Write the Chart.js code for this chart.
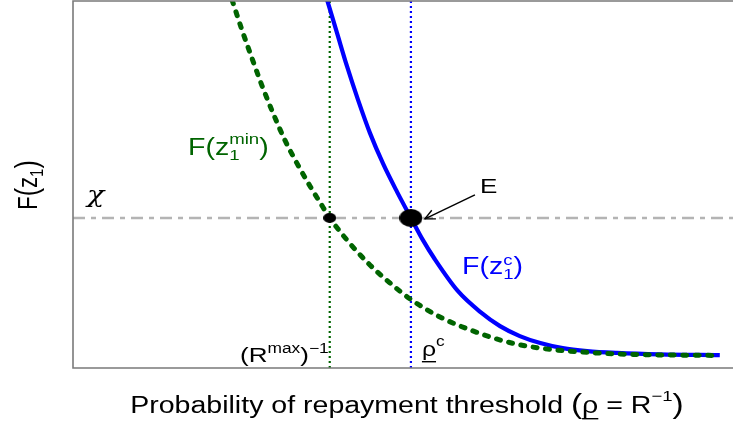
<!DOCTYPE html>
<html><head><meta charset="utf-8">
<script src="https://cdn.jsdelivr.net/npm/chart.js@4"></script>
<style>html,body{margin:0;padding:0;background:#fff}canvas{display:block}</style>
</head><body>
<canvas id="c" width="733" height="425"></canvas>
<script>
// ---- data (axes normalised 0..1) ----
const blueX  = [0.385,0.400,0.415,0.432,0.450,0.470,0.491,0.512,0.530,0.548,0.583,0.617,0.647,0.677,0.708,0.742,0.779,0.824,0.889,0.980];
const blueY  = [1.003,0.913,0.823,0.730,0.640,0.556,0.480,0.409,0.349,0.297,0.210,0.153,0.114,0.087,0.068,0.054,0.046,0.041,0.037,0.035];
const greenX = [0.241,0.256,0.271,0.286,0.303,0.321,0.339,0.359,0.374,0.389,0.415,0.447,0.480,0.511,0.556,0.606,0.658,0.708,0.768,0.829,0.980];
const greenY = [1.003,0.921,0.845,0.771,0.695,0.621,0.559,0.496,0.452,0.409,0.349,0.286,0.232,0.188,0.139,0.101,0.071,0.054,0.044,0.038,0.034];
const chiLevel = 0.409;
const rMaxInv = 0.389;   // (R^max)^-1
const rhoC = 0.512;      // rho^c
const xRange = [0, 1];
const yRange = [0, 1];

const GREEN = '#006400', BLUE = '#0000ff';
const SX = 1.24; // horizontal stretch of the original picture
const SANS = '"Liberation Sans", Arial, Helvetica, sans-serif';

function fnt(sz, fam, st){ return (st ? st + ' ' : '') + sz + 'px ' + (fam || SANS); }
function segW(ctx, s){
  if (s.stack) return Math.max(...s.stack.map(p => segW(ctx, p)));
  ctx.font = fnt(s.sz, s.fam, s.st); return ctx.measureText(s.t).width;
}
function drawSegs(ctx, segs, color){
  let x = 0; ctx.fillStyle = color; ctx.textBaseline = 'alphabetic'; ctx.textAlign = 'left';
  for (const s of segs){
    const w = segW(ctx, s);
    for (const p of (s.stack || [s])){
      ctx.font = fnt(p.sz, p.fam, p.st);
      ctx.fillText(p.t, x, p.dy || 0);
      if (p.ul !== undefined) ctx.fillRect(x, p.ul, segW(ctx, p), 1.4);
    }
    x += w;
  }
  return x;
}
function totalW(ctx, segs){ return segs.reduce((a, s) => a + segW(ctx, s), 0); }
function label(ctx, segs, x, y, color, align){
  ctx.save(); ctx.translate(x, y); ctx.scale(SX, 1);
  const w = totalW(ctx, segs);
  if (align === 'center') ctx.translate(-w/2, 0);
  else if (align === 'right') ctx.translate(-w, 0);
  drawSegs(ctx, segs, color); ctx.restore();
}

function ellipse(w, h){
  const c = document.createElement('canvas'); c.width = w; c.height = h;
  const g = c.getContext('2d'); g.fillStyle = '#000';
  g.beginPath(); g.ellipse(w/2, h/2, w/2, h/2, 0, 0, Math.PI*2); g.fill();
  return c;
}

const pts = (xs, ys) => xs.map((x, i) => ({x, y: ys[i]}));

const overlay = {
  id: 'overlay',
  afterDatasetsDraw(chart){
    const ctx = chart.ctx, a = chart.chartArea;
    const xs = chart.scales.x, ys = chart.scales.y;
    const px = v => xs.getPixelForValue(v), py = v => ys.getPixelForValue(v);
    // frame (top, left, bottom)
    ctx.save();
    ctx.strokeStyle = '#7a7a7a'; ctx.lineWidth = 1.6;
    ctx.beginPath();
    ctx.moveTo(a.right + 2, a.top); ctx.lineTo(a.left, a.top);
    ctx.lineTo(a.left, a.bottom); ctx.lineTo(a.right + 2, a.bottom);
    ctx.stroke();
    // arrow to E
    const ex = px(rhoC), ey = py(chiLevel);
    const x0 = ex + 64, y0 = ey - 23, x1 = ex + 14, y1 = ey + 1;
    ctx.strokeStyle = '#000'; ctx.lineWidth = 1.4;
    ctx.beginPath(); ctx.moveTo(x0, y0); ctx.lineTo(x1, y1); ctx.stroke();
    const ang = Math.atan2(y1 - y0, x1 - x0), hl = 11;
    ctx.beginPath();
    ctx.moveTo(x1 - hl*Math.cos(ang - 0.45), y1 - hl*Math.sin(ang - 0.45));
    ctx.lineTo(x1, y1);
    ctx.lineTo(x1 - hl*Math.cos(ang + 0.45), y1 - hl*Math.sin(ang + 0.45));
    ctx.stroke();
    ctx.restore();

    // labels
    label(ctx, [{t:'E', sz:21}], ex + 69, ey - 25, '#000');
    label(ctx, [{t:'\u03C7', sz:23, st:'italic', fam:'"DejaVu Serif", "Liberation Serif", serif'}], a.left + 14, ey - 16, '#000');
    label(ctx, [{t:'F', sz:23},{t:'(', sz:23},{t:'z', sz:23},
                {stack:[{t:'min', sz:15, dy:-11},{t:'1', sz:15, dy:5}]},{t:')', sz:23}],
          188, 155, GREEN);
    label(ctx, [{t:'F', sz:23},{t:'(', sz:23},{t:'z', sz:23},
                {stack:[{t:'c', sz:15, dy:-9},{t:'1', sz:15, dy:5}]},{t:')', sz:23}],
          462, 274, BLUE);
    label(ctx, [{t:'(', sz:21},{t:'R', sz:21},{t:'max', sz:14, dy:-9},{t:')', sz:21},{t:'\u22121', sz:14, dy:-9}],
          px(rMaxInv) - 1, py(0) - 6, '#000', 'right');
    label(ctx, [{t:'\u03C1', sz:20, ul:5},{t:'c', sz:14, dy:-10}],
          px(rhoC) + 11, py(0) - 12, '#000');
    // x title
    label(ctx, [{t:'Probability of repayment threshold ', sz:23},{t:'(', sz:27},
                {t:'\u03C1', sz:23, ul:5},{t:' = R', sz:23},{t:'\u22121', sz:15, dy:-12},{t:')', sz:27}],
          407, 413, '#000', 'center');
    // y title (rotated)
    ctx.save(); ctx.translate(37, 185); ctx.scale(SX, 1); ctx.rotate(-Math.PI/2);
    const ysegs = [{t:'F', sz:22},{t:'(', sz:25},{t:'z', sz:22},{t:'1', sz:15, dy:5},{t:')', sz:25}];
    ctx.translate(-totalW(ctx, ysegs)/2, 0);
    drawSegs(ctx, ysegs, '#000');
    ctx.restore();
  }
};

new Chart(document.getElementById('c'), {
  type: 'line',
  data: {
    datasets: [
      { data: [{x: rMaxInv, y: chiLevel}], showLine: false, pointStyle: ellipse(13, 10), pointRadius: 6, order: 0 },
      { data: [{x: rhoC, y: chiLevel}], showLine: false, pointStyle: ellipse(23, 18), pointRadius: 10, order: 0 },
      { data: pts(greenX, greenY), borderColor: GREEN, borderWidth: 5, borderDash: [4, 8.5], borderCapStyle: 'round',
        pointRadius: 0, cubicInterpolationMode: 'monotone', order: 1 },
      { data: pts(blueX, blueY), borderColor: BLUE, borderWidth: 4.2,
        pointRadius: 0, cubicInterpolationMode: 'monotone', order: 2 },
      { data: [{x: rMaxInv, y: yRange[0]}, {x: rMaxInv, y: yRange[1]}], borderColor: GREEN, borderWidth: 2.2, borderDash: [2, 3],
        pointRadius: 0, order: 3 },
      { data: [{x: rhoC, y: yRange[0]}, {x: rhoC, y: yRange[1]}], borderColor: BLUE, borderWidth: 2.2, borderDash: [2, 3],
        pointRadius: 0, order: 3 },
      { data: [{x: xRange[0], y: chiLevel}, {x: xRange[1], y: chiLevel}], borderColor: '#b4b4b4', borderWidth: 2.5,
        borderDash: [12, 6, 5, 6], pointRadius: 0, order: 4 }
    ]
  },
  options: {
    responsive: false, animation: false, devicePixelRatio: 1, events: [],
    layout: { autoPadding: false, padding: { left: 73, top: 1, right: 0, bottom: 57 } },
    plugins: { legend: { display: false }, tooltip: { enabled: false } },
    scales: {
      x: { type: 'linear', min: xRange[0], max: xRange[1], display: false },
      y: { type: 'linear', min: yRange[0], max: yRange[1], display: false }
    }
  },
  plugins: [overlay]
});
</script>
</body></html>
